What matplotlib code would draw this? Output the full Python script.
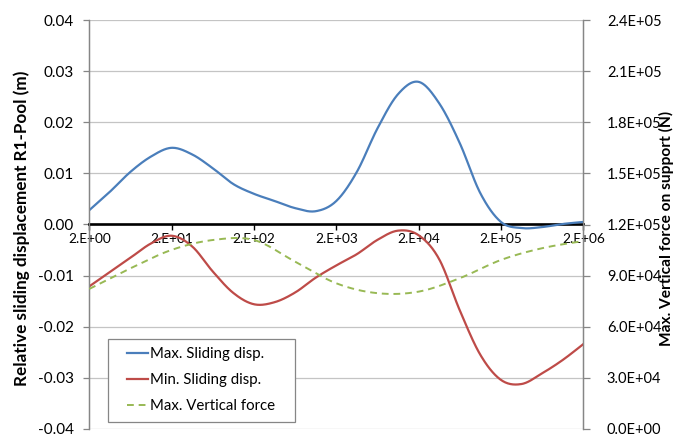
import numpy as np
import matplotlib
matplotlib.use("Agg")
import matplotlib.pyplot as plt
from matplotlib.ticker import FixedLocator, FuncFormatter, NullLocator
from matplotlib.legend_handler import HandlerLine2D

# ---- data ----
freq_q = [2.0 * 10 ** (k / 4) for k in range(25)]  # quarter-decade steps, 2 .. 2e6
max_slide = [0.0028, 0.0064, 0.0103, 0.0133, 0.0150, 0.0137, 0.0110, 0.0079,
             0.0060, 0.0046, 0.0032, 0.0026, 0.0046, 0.0103, 0.0188, 0.0255,
             0.0279, 0.0237, 0.0159, 0.0061, 0.0005, -0.0007, -0.0005, 0.0001,
             0.0005]
min_slide = [-0.0121, -0.0093, -0.0065, -0.0037, -0.0022, -0.0043, -0.0092, -0.0134,
             -0.0156, -0.0152, -0.0133, -0.0104, -0.0080, -0.0058, -0.0030, -0.0012,
             -0.0021, -0.0068, -0.0168, -0.0255, -0.0304, -0.0312, -0.0291, -0.0265,
             -0.0234]
freq_h = [2.0 * 10 ** (k / 2) for k in range(13)]  # half-decade steps
max_force = [82200, 94300, 105100, 110900, 110900, 98200, 85500,
             79700, 80600, 88500, 99200, 106100, 110300]
x_ticks = [2e0, 2e1, 2e2, 2e3, 2e4, 2e5, 2e6]
left_ticks = [-0.04, -0.03, -0.02, -0.01, 0.0, 0.01, 0.02, 0.03, 0.04]
right_ticks = [0, 3e4, 6e4, 9e4, 1.2e5, 1.5e5, 1.8e5, 2.1e5, 2.4e5]
labels = ["Max. Sliding disp.", "Min. Sliding disp.", "Max. Vertical force"]


def smooth(xs, ys, n=24):
    """Catmull-Rom smoothing (like Excel's smoothed line) in log-x space."""
    P = np.column_stack([np.log10(xs), ys])
    pad = np.vstack([P[0], P, P[-1]])
    segs = []
    t = np.linspace(0, 1, n, endpoint=False)[:, None]
    for i in range(1, len(pad) - 2):
        p0, p1, p2, p3 = pad[i - 1], pad[i], pad[i + 1], pad[i + 2]
        seg = 0.5 * (2 * p1 + (-p0 + p2) * t + (2 * p0 - 5 * p1 + 4 * p2 - p3) * t ** 2
                     + (-p0 + 3 * p1 - 3 * p2 + p3) * t ** 3)
        segs.append(seg)
    segs.append(P[-1][None])
    S = np.vstack(segs)
    return 10 ** S[:, 0], S[:, 1]


class ShortLine(HandlerLine2D):
    def get_xdata(self, legend, xdescent, ydescent, width, height, fontsize):
        xd = np.array([width * 0.32, width]) - xdescent
        return xd, xd


plt.rcParams['font.family'] = ['Lato', 'DejaVu Sans']

fig = plt.figure(figsize=(6.75, 4.37), dpi=100)
ax1 = fig.add_axes([89.3 / 675, 1 - 429 / 437, (583.3 - 89.3) / 675, (429 - 20) / 437])
ax2 = ax1.twinx()

blue = '#4a7ebb'
red = '#be4b48'
green = '#98b954'

xb, yb = smooth(freq_q, max_slide)
xr, yr = smooth(freq_q, min_slide)
xg, yg = smooth(freq_h, max_force)
h1, = ax1.plot(xb, yb, color=blue, lw=1.6, label=labels[0], zorder=3)
h2, = ax1.plot(xr, yr, color=red, lw=1.6, label=labels[1], zorder=3)
h3, = ax2.plot(xg, yg, color=green, lw=1.4, ls=(0, (3.5, 2.5)), label=labels[2], zorder=3)

ax1.set_xscale('log')
ax1.set_xlim(2, 2e6)
ax1.set_ylim(-0.04, 0.04)
ax2.set_ylim(0, 2.4e5)

ax1.xaxis.set_major_locator(FixedLocator(x_ticks))
ax1.xaxis.set_minor_locator(NullLocator())
ax1.xaxis.set_major_formatter(FuncFormatter(lambda v, p: format(v, '#.0E')))
ax1.yaxis.set_major_locator(FixedLocator(left_ticks))
ax1.yaxis.set_major_formatter(FuncFormatter(lambda v, p: f"{v:.2f}"))
ax2.yaxis.set_major_locator(FixedLocator(right_ticks))
ax2.yaxis.set_major_formatter(FuncFormatter(lambda v, p: f"{v:.1E}"))

grid_c = '#c4c4c4'
ax1.grid(axis='y', color=grid_c, lw=0.9)
ax1.grid(axis='x', visible=False)
ax1.set_axisbelow(True)

for ax in (ax1, ax2):
    ax.spines['top'].set_visible(False)
    ax.spines['left'].set_color('#868686')
    ax.spines['right'].set_color('#868686')
    ax.spines['left'].set_linewidth(0.9)
    ax.spines['right'].set_linewidth(0.9)
ax2.spines['bottom'].set_visible(False)
ax1.spines['bottom'].set_position(('data', 0))
ax1.spines['bottom'].set_color('black')
ax1.spines['bottom'].set_linewidth(1.9)
ax1.spines['bottom'].set_zorder(2.5)

ax1.tick_params(axis='x', which='major', direction='out', length=4, width=1,
                color='black', labelsize=9.8, pad=2)
ax1.tick_params(axis='y', direction='out', length=4.5, width=0.9, color='#868686',
                labelsize=11, pad=6.5)
ax2.tick_params(axis='y', direction='out', length=5, width=0.9, color='#868686',
                labelsize=10.5, pad=12)

ax1.set_ylabel("Relative sliding displacement R1-Pool (m)", fontsize=12.3, fontweight='bold')
ax1.yaxis.label.set_va('center')
ax1.yaxis.set_label_coords((21.7 - 89.3) / 494, 0.49)
ax2.set_ylabel("Max. Vertical force on support (N)", fontsize=11.2, fontweight='bold')
ax2.yaxis.label.set_va('center')
ax2.yaxis.set_label_coords((666 - 89.3) / 494, 0.49)

leg = ax2.legend([h1, h2, h3], labels, loc='lower left',
                 bbox_to_anchor=((108.3 - 89.3) / 494, (429 - 421.7) / 409,
                                 (295 - 108.3) / 494, (421.7 - 340) / 409),
                 mode='expand', fancybox=False, framealpha=1, edgecolor='#868686',
                 fontsize=10.8, handlelength=2.1, handletextpad=0.15,
                 labelspacing=0.8, borderpad=0.55, borderaxespad=0,
                 handler_map={h1: ShortLine(), h2: ShortLine(), h3: ShortLine()})
leg.get_frame().set_linewidth(0.9)
leg.set_zorder(10)

fig.savefig('out.png', dpi=100)
